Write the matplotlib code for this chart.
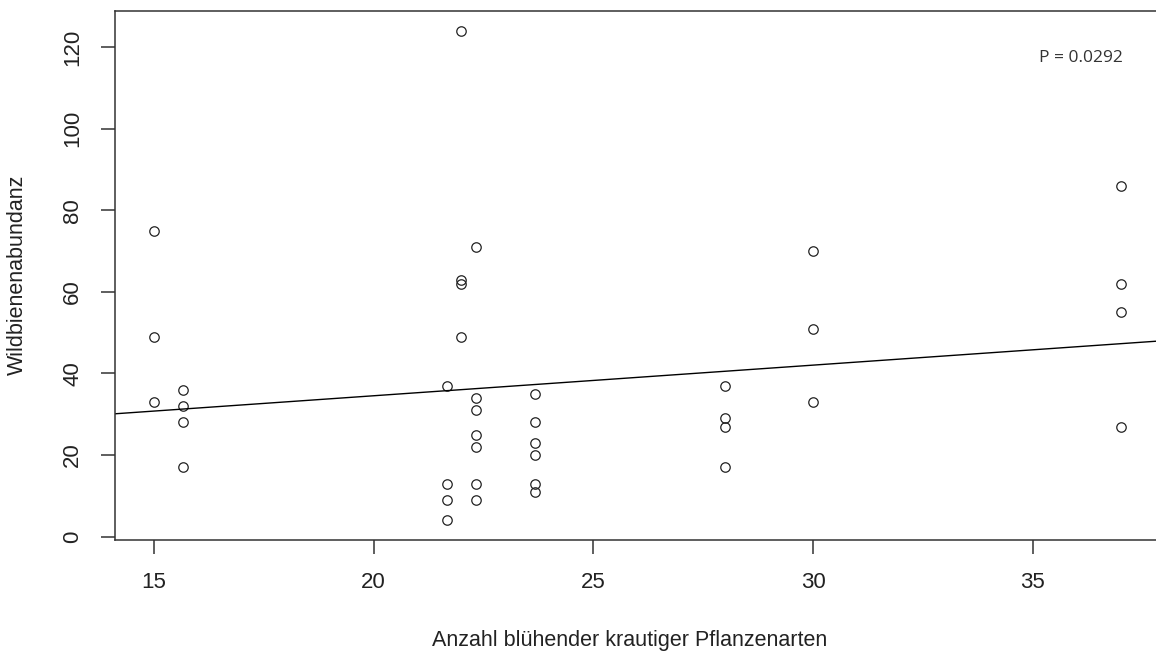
import numpy as np
import matplotlib
matplotlib.use("Agg")
import matplotlib.pyplot as plt

# values
pflanzenarten = [15, 15, 15,
                 15.67, 15.67, 15.67, 15.67,
                 21.67, 21.67, 21.67, 21.67,
                 22, 22, 22, 22,
                 22.33, 22.33, 22.33, 22.33, 22.33, 22.33, 22.33,
                 23.67, 23.67, 23.67, 23.67, 23.67, 23.67,
                 28, 28, 28, 28,
                 30, 30, 30,
                 37, 37, 37, 37]
abundanz = [75, 49, 33,
            36, 32, 28, 17,
            37, 13, 9, 4,
            124, 63, 62, 49,
            71, 34, 31, 25, 22, 13, 9,
            35, 28, 23, 20, 13, 11,
            37, 29, 27, 17,
            70, 51, 33,
            86, 62, 55, 27]
x_ticks = [15, 20, 25, 30, 35]
y_ticks = [0, 20, 40, 60, 80, 100, 120]
p_text = "P = 0.0292"

x = np.array(pflanzenarten)
y = np.array(abundanz)

plt.rcParams['font.family'] = ['Liberation Sans', 'DejaVu Sans']

fig = plt.figure(figsize=(11.56, 6.51), dpi=100)
ax = fig.add_axes([115/1156, 111/651, 1044.6/1156, 529/651])

ax.plot(x, y, 'o', ms=6.8, mfc='none', mec='#222222', mew=0.9)

# linear fit like abline(lm(...)) in R
slope, intercept = np.polyfit(x, y, 1)
ax.axline((0, intercept), slope=slope, color='black', lw=1.0)

# R style limits: data range plus 4 %
xr = x.max() - x.min()
yr = y.max() - y.min()
ax.set_xlim(x.min() - 0.04*xr, x.max() + 0.04*xr)
ax.set_ylim(y.min() - 0.04*yr, y.max() + 0.04*yr)

ax.set_xticks(x_ticks)
ax.set_yticks(y_ticks)
ax.tick_params(length=10, width=1.1, color='#333333', pad=13, labelsize=16, labelcolor='#222222')
for lab in ax.get_yticklabels():
    lab.set_rotation(90)
    lab.set_va('center')

for side in ['left', 'bottom', 'top']:
    ax.spines[side].set_linewidth(1.1)
    ax.spines[side].set_color('#333333')
ax.spines['right'].set_visible(False)

ax.set_xlabel("Anzahl blühender krautiger Pflanzenarten", fontsize=15.5, color='#222222')
ax.set_ylabel("Wildbienenabundanz", fontsize=15.5, color='#222222')
ax.xaxis.set_label_coords((630 - 115)/1044.6, (540 - 630)/529)
ax.yaxis.set_label_coords((28 - 115)/1044.6, (540 - 275)/529)

ax.text(0.925, 0.911, p_text, transform=ax.transAxes, ha='center', va='center',
        fontsize=12.5, color='#333333', family=['Open Sans', 'DejaVu Sans'])

fig.savefig("out.png", dpi=100)
